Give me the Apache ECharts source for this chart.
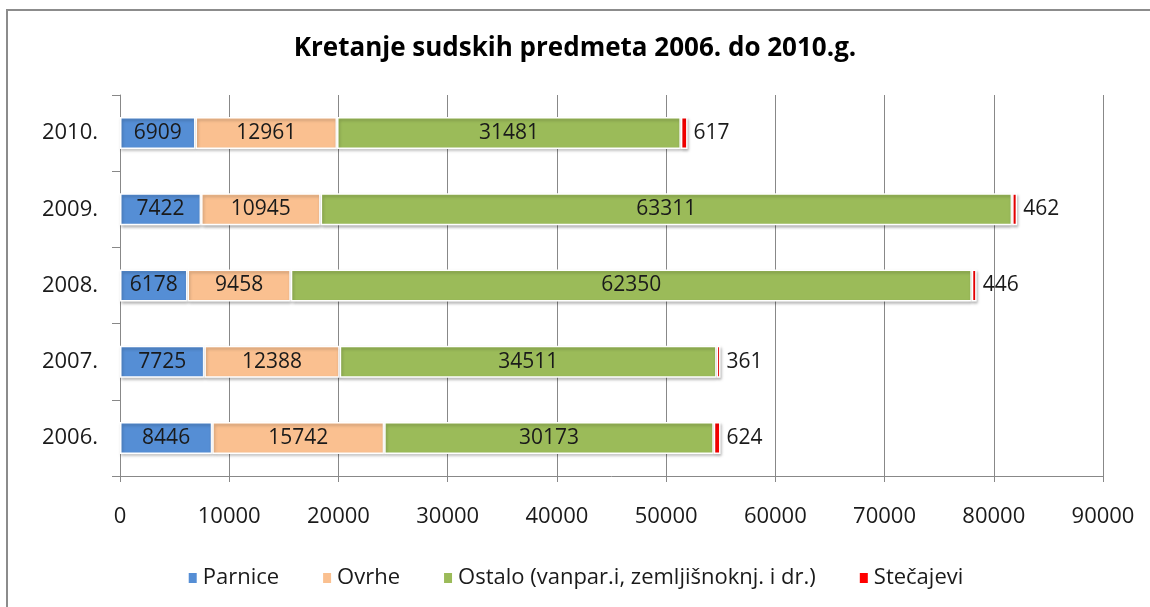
<!DOCTYPE html>
<html>
<head>
<meta charset="utf-8">
<script src="https://cdn.jsdelivr.net/npm/echarts@6/dist/echarts.min.js"></script>
<style>
  html, body { margin: 0; padding: 0; background: #fff; }
  #frame { position: absolute; left: 6px; top: 9px; width: 1150px; height: 620px; border: 2px solid #8c8c8c; box-sizing: border-box; }
  #chart { position: absolute; left: 0; top: 0; width: 1150px; height: 607px; }
</style>
</head>
<body>
<div id="frame"></div>
<div id="chart"></div>
<script>
var years = ['2006.', '2007.', '2008.', '2009.', '2010.'];
var parnice = [8446, 7725, 6178, 7422, 6909];
var ovrhe = [15742, 12388, 9458, 10945, 12961];
var ostalo = [30173, 34511, 62350, 63311, 31481];
var stecajevi = [624, 361, 446, 462, 617];
var xTicks = { min: 0, max: 90000, interval: 10000 };

var font = '"Open Sans", sans-serif';
var chart = echarts.init(document.getElementById('chart'));

function barSeries(name, data, color, inside) {
    return {
        name: name,
        type: 'bar',
        stack: 'total',
        barWidth: 32,
        data: data,
        itemStyle: {
            color: color,
            borderColor: '#fff',
            borderWidth: 1.5,
            shadowColor: 'rgba(0,0,0,0.25)',
            shadowBlur: 3,
            shadowOffsetX: 1,
            shadowOffsetY: 2
        },
        label: {
            show: true,
            position: inside ? 'inside' : 'right',
            distance: 6,
            color: '#1a1a1a',
            fontFamily: font,
            fontSize: 21
        }
    };
}

var option = {
    animation: false,
    title: {
        text: 'Kretanje sudskih predmeta 2006. do 2010.g.',
        left: 'center',
        top: 31,
        textStyle: { fontFamily: font, fontSize: 26, fontWeight: 'bold', color: '#000' }
    },
    legend: {
        bottom: 13,
        left: 'center',
        itemWidth: 10,
        itemHeight: 12,
        itemGap: 42,
        icon: 'rect',
        textStyle: { fontFamily: font, fontSize: 22, color: '#1a1a1a' },
        data: ['Parnice', 'Ovrhe', 'Ostalo (vanpar.i, zemljišnoknj. i dr.)', 'Stečajevi']
    },
    grid: { left: 120, right: 47, top: 95, bottom: 131 },
    xAxis: {
        type: 'value',
        min: xTicks.min,
        max: xTicks.max,
        interval: xTicks.interval,
        axisLine: { show: true, lineStyle: { color: '#888' } },
        axisTick: { show: true, length: 6, lineStyle: { color: '#888' } },
        axisLabel: {
            margin: 30, fontFamily: font, fontSize: 22, color: '#1a1a1a',
            formatter: function (v) { return String(v); }
        },
        splitLine: { show: true, lineStyle: { color: '#888' } }
    },
    yAxis: {
        type: 'category',
        data: years,
        axisLine: { show: true, lineStyle: { color: '#888' } },
        axisTick: { show: true, length: 8, lineStyle: { color: '#888' } },
        axisLabel: { margin: 22, fontFamily: font, fontSize: 22, color: '#1a1a1a' }
    },
    series: [
        barSeries('Parnice', parnice, '#558ED5', true),
        barSeries('Ovrhe', ovrhe, '#FAC090', true),
        barSeries('Ostalo (vanpar.i, zemljišnoknj. i dr.)', ostalo, '#9BBB59', true),
        barSeries('Stečajevi', stecajevi, '#FF0000', false)
    ]
};
chart.setOption(option);
</script>
</body>
</html>
